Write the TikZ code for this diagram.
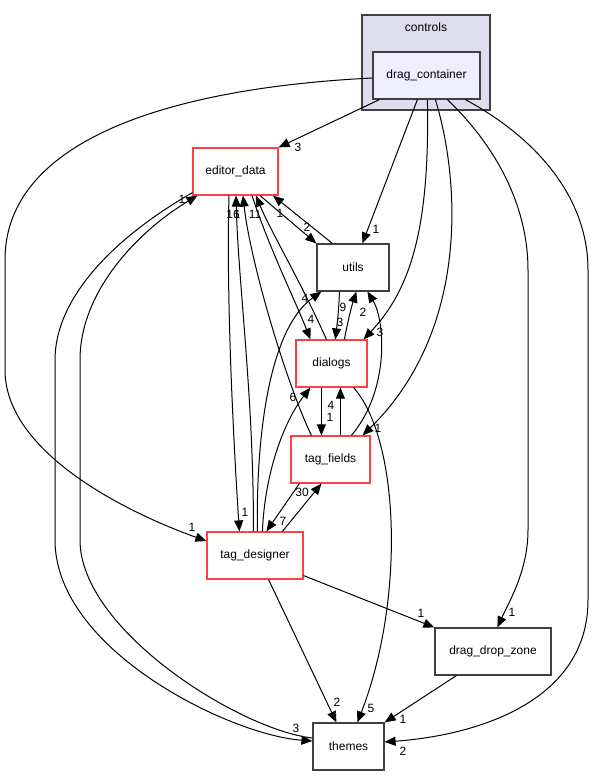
\documentclass[tikz,border=0pt]{standalone}
\usepackage{fontspec}
\setmainfont{Liberation Sans}
\usetikzlibrary{arrows.meta}
\definecolor{redb}{RGB}{255,64,64}
\definecolor{grayb}{RGB}{64,64,64}
\definecolor{clfill}{RGB}{221,221,238}
\definecolor{dcfill}{RGB}{238,238,255}
\tikzset{
  box/.style={draw=grayb, line width=1.2pt, fill=white, rectangle, inner sep=0pt, minimum height=47pt, font=\fontsize{12}{14}\selectfont},
  redbox/.style={box, draw=redb},
  dep/.style={draw=black, line width=1pt, -{Triangle[length=11pt,width=9pt]}},
  lab/.style={inner sep=0pt, font=\fontsize{12}{14}\selectfont},
}
\begin{document}
\begin{tikzpicture}[x=1pt,y=-1pt]
\useasboundingbox (0,0) rectangle (596,777);
% cluster
\node[draw=grayb, line width=1.2pt, fill=clfill, minimum width=128pt, minimum height=95pt, inner sep=0pt] (cl) at (426,62.5) {};
\node[lab] (cltitle) at (426,27) {controls};
% nodes
\node[box, fill=dcfill, minimum width=107pt] (dc) at (426.5,75.5) {drag\_container};
\node[redbox, minimum width=85pt] (ed) at (235.5,171.5) {editor\_data};
\node[box, minimum width=72pt] (ut) at (353,267.5) {utils};
\node[redbox, minimum width=71pt] (dl) at (331.5,363.5) {dialogs};
\node[redbox, minimum width=79pt] (tf) at (330.5,459.5) {tag\_fields};
\node[redbox, minimum width=96pt] (td) at (255,555.5) {tag\_designer};
\node[box, minimum width=116pt] (dz) at (493,651.5) {drag\_drop\_zone};
\node[box, minimum width=71pt] (th) at (348.5,746.5) {themes};

% edges from drag_container
\draw[dep] ([xshift=7pt]dc.south west) -- (ed.north east);
\draw[dep] ([yshift=-2.5pt]dc.west) .. controls (170,88) and (5,140) .. (5,260) -- (5,370) .. controls (5,450) and (120,510) .. ([yshift=14.5pt]td.west);
\draw[dep] ([xshift=45pt]dc.south west) -- ([xshift=46pt]ut.north west);
\draw[dep] ([xshift=55pt]dc.south west) .. controls (430,230) and (410,290) .. ([xshift=-4pt]dl.north east);
\draw[dep] ([xshift=63pt]dc.south west) .. controls (460,180) and (470,330) .. ([xshift=-8pt]tf.north east);
\draw[dep] ([xshift=75pt]dc.south west) .. controls (500,150) and (528,210) .. (528,270) -- (528,530) .. controls (528,570) and (510,600) .. ([xshift=63pt]dz.north west);
\draw[dep] ([xshift=93pt]dc.south west) .. controls (540,140) and (588,200) .. (588,270) -- (588,600) .. controls (588,700) and (480,735) .. ([yshift=4.5pt]th.east);

% editor_data <-> utils
\draw[dep] ([xshift=24.5pt]ed.south) -- (ut.north west);
\draw[dep] ([xshift=16pt]ut.north west) -- ([xshift=37.5pt]ed.south);
% editor_data <-> dialogs
\draw[dep] ([xshift=16.5pt]ed.south) .. controls (270,250) and (295,300) .. ([xshift=15pt]dl.north west);
\draw[dep] ([xshift=31pt]dl.north west) .. controls (300,280) and (270,230) .. ([xshift=20.5pt]ed.south);
% tag_fields -> editor_data
\draw[dep] ([xshift=21pt]tf.north west) .. controls (285,380) and (250,260) .. ([xshift=7.5pt]ed.south);
% tag_designer <-> editor_data
\draw[dep] ([xshift=47pt]td.north west) .. controls (254,400) and (238,280) .. ([xshift=0.5pt]ed.south);
\draw[dep] ([xshift=-6.5pt]ed.south) .. controls (226,300) and (234,450) .. ([xshift=33pt]td.north west);
% tag_designer -> utils, dialogs
\draw[dep] ([xshift=51pt]td.north west) .. controls (256,440) and (268,330) .. ([xshift=5pt]ut.south west);
\draw[dep] ([xshift=56pt]td.north west) .. controls (265,470) and (285,420) .. ([xshift=15pt]dl.south west);
% tag_fields <-> tag_designer
\draw[dep] ([xshift=9pt]tf.south west) -- ([xshift=60pt]td.north west);
\draw[dep] ([xshift=76pt]td.north west) -- ([xshift=31pt]tf.south west);
% dialogs <-> tag_fields
\draw[dep] ([xshift=26pt]dl.south west) -- ([xshift=31pt]tf.north west);
\draw[dep] ([xshift=50pt]tf.north west) -- ([xshift=45pt]dl.south west);
% utils <-> dialogs
\draw[dep] ([xshift=23pt]ut.south west) .. controls (339,310) and (337,325) .. ([xshift=40pt]dl.north west);
\draw[dep] ([xshift=49pt]dl.north west) .. controls (348,320) and (352,305) .. ([xshift=40pt]ut.south west);
% tag_fields -> utils
\draw[dep] ([xshift=61pt]tf.north west) .. controls (390,390) and (385,320) .. ([xshift=51pt]ut.south west);
% editor_data <-> themes
\draw[dep] ([yshift=3pt]ed.south west) .. controls (110,240) and (55,300) .. (55,360) -- (55,540) .. controls (55,650) and (230,735) .. ([yshift=5.5pt]th.west);
\draw[dep] ([yshift=8.5pt]th.west) .. controls (240,730) and (80,630) .. (80,540) -- (80,360) .. controls (80,290) and (140,230) .. ([xshift=5pt]ed.south west);
% to themes
\draw[dep] ([xshift=-35pt]td.south east) -- ([xshift=24pt]th.north west);
\draw[dep] ([xshift=-14pt]dl.south east) .. controls (400,440) and (405,600) .. ([xshift=45pt]th.north west);
\draw[dep] ([xshift=22pt]dz.south west) -- (th.north east);
\draw[dep] ([yshift=4pt]td.south east) -- (dz.north west);

% labels
\node[lab] (L1) at (298,147) {3};
\node[lab] (L2) at (192,527) {1};
\node[lab] (L3) at (376,229) {1};
\node[lab] (L4) at (380,332) {3};
\node[lab] (L5) at (378,428) {1};
\node[lab] (L6) at (512,612) {1};
\node[lab] (L7) at (403,751) {2};
\node[lab] (L8) at (307,227) {2};
\node[lab] (L9) at (280,213) {1};
\node[lab] (L10) at (311,319) {4};
\node[lab] (L11) at (255,214) {11};
\node[lab] (L12) at (233,214) {16};
\node[lab] (L13) at (237,214) {1};
\node[lab] (L14) at (245,512) {1};
\node[lab] (L15) at (305,298) {4};
\node[lab] (L16) at (293,397) {6};
\node[lab] (L17) at (283,521) {7};
\node[lab] (L18) at (302,492) {30};
\node[lab] (L19) at (330,417) {1};
\node[lab] (L20) at (331,405) {4};
\node[lab] (L21) at (340,322) {3};
\node[lab] (L22) at (343,307) {9};
\node[lab] (L23) at (363,312) {2};
\node[lab] (L24) at (296,728) {3};
\node[lab] (L25) at (182,199) {1};
\node[lab] (L26) at (337,702) {2};
\node[lab] (L27) at (371,708) {5};
\node[lab] (L28) at (403,719) {1};
\node[lab] (L29) at (421,613) {1};
\end{tikzpicture}
\end{document}
